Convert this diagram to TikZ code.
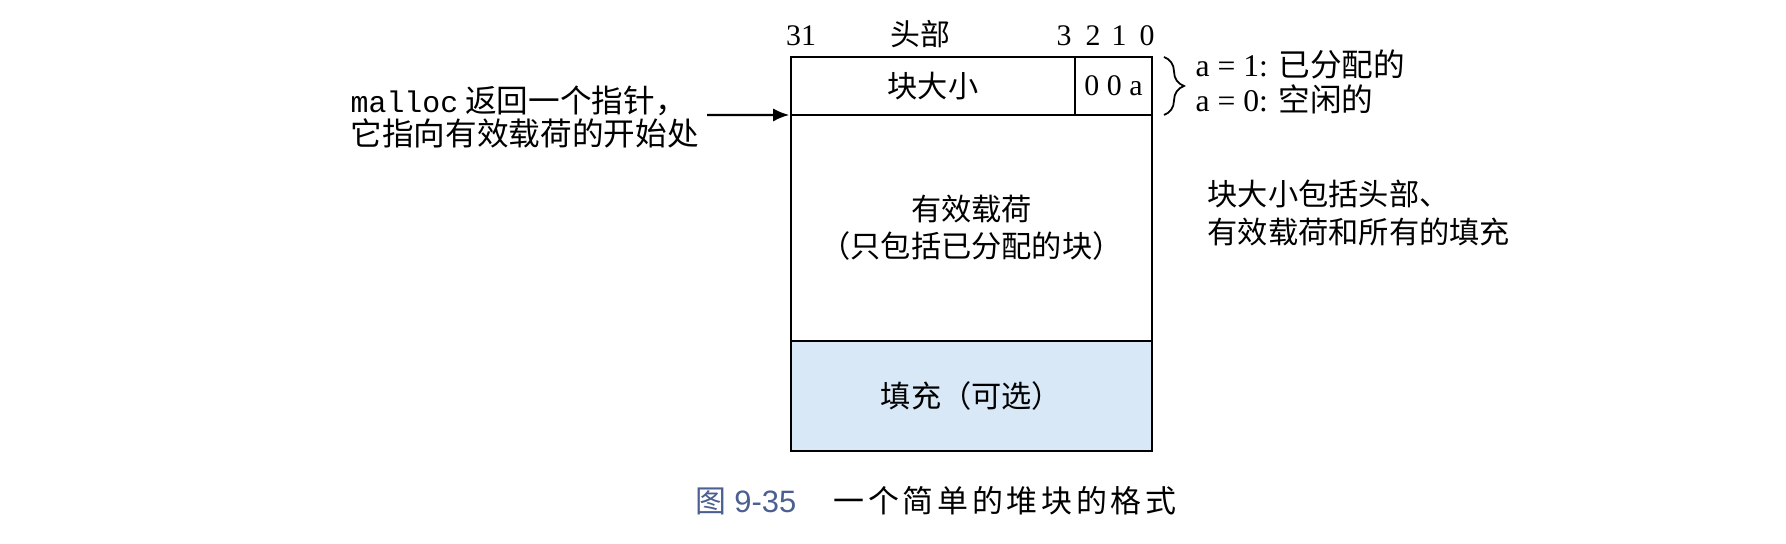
\documentclass[tikz,border=0pt]{standalone}
\usepackage{fontspec}
\setmainfont{Liberation Serif}
\setmonofont{Liberation Mono}
\newfontfamily\cjk{Noto Sans CJK SC}
\newfontfamily\capcjk[LetterSpace=12]{Noto Sans CJK SC}
\newfontfamily\capnum{Liberation Sans}
\usetikzlibrary{arrows.meta}
\usetikzlibrary{positioning}
\usetikzlibrary{decorations.pathreplacing}
\definecolor{padblue}{RGB}{216,232,246}
\definecolor{capblue}{RGB}{75,95,145}

\begin{document}
\begin{tikzpicture}[
		field/.style={draw,line width=0.65pt,inner sep=0pt,outer sep=0pt,anchor=north west,align=center,font=\cjk\fontsize{8.6}{10.4}\selectfont},
		bitno/.style={inner sep=0pt,anchor=base,font=\fontsize{8.5}{10}\selectfont},
		ptr/.style={-{Latex[length=1.6mm,width=1.3mm]},line width=0.6pt,shorten >=0.5pt},
	]
		\useasboundingbox (0,0) rectangle (17.86,5.44);
		\node[field,minimum width=2.84cm,minimum height=0.58cm] (hdr) at (7.91,4.87) {块大小};
		\node[field,minimum width=0.77cm,minimum height=0.58cm,font=\fontsize{8.5}{10}\selectfont] (flag) at (hdr.north east) {0 0 a};
		\node[field,minimum width=3.61cm,minimum height=2.26cm] (payload) at (hdr.south west) {有效载荷\\（只包括已分配的块）};
		\node[field,fill=padblue,minimum width=3.61cm,minimum height=1.10cm] (pad) at (payload.south west) {填充（可选）};
		\node[bitno] (b31) at (8.01,4.98) {31};
		\node[bitno,font=\cjk\fontsize{8.5}{10}\selectfont] (hdrname) at (9.20,4.98) {头部};
		\foreach \b/\x in {3/10.64,2/10.93,1/11.19,0/11.47}
			\node[bitno] (b\b) at (\x,4.98) {\b};
		\node[anchor=west,align=left,inner sep=0pt,font=\cjk\fontsize{9}{9.6}\selectfont] (ptrtxt) at (3.50,4.27) {{\ttfamily\fontsize{8.5}{9.6}\selectfont malloc} 返回一个指针，\\它指向有效载荷的开始处};
		\coordinate (ptrfrom) at (7.07,4.29);
		\draw[ptr] (ptrfrom) -- (payload.north west);
		\draw[decorate,decoration={brace,amplitude=0.2cm},line width=0.5pt] ([xshift=0.12cm]flag.north east) -- ([xshift=0.12cm]flag.south east);
		\node[anchor=west,align=left,inner sep=0pt,font=\fontsize{9}{10}\selectfont] (flagtxt) at (11.95,4.62) {a = 1: {\cjk 已分配的}\\a = 0: {\cjk 空闲的}};
		\node[anchor=west,align=left,inner sep=0pt,font=\cjk\fontsize{8.6}{10.8}\selectfont] (sizetxt) at (12.07,3.31) {块大小包括头部、\\有效载荷和所有的填充};
		\node[anchor=west,inner sep=0pt,text=capblue,font=\fontsize{8.8}{10}\selectfont] (capno) at (6.95,0.43) {{\cjk 图} {\capnum 9-35}};
		\node[anchor=west,inner sep=0pt,font=\capcjk\fontsize{8.8}{10}\selectfont] (captxt) at (8.33,0.43) {一个简单的堆块的格式};
	\end{tikzpicture}
\end{document}
